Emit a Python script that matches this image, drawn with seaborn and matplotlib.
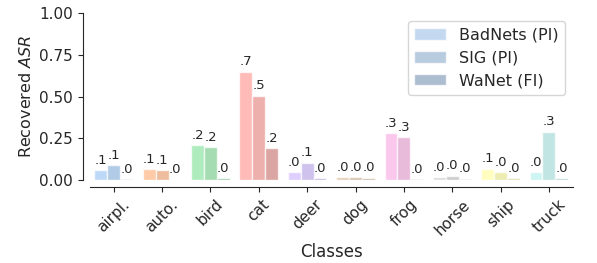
import numpy as np
import pandas as pd
import matplotlib
matplotlib.use("Agg")
import matplotlib.pyplot as plt
import seaborn as sns

classes = ["airpl.", "auto.", "bird", "cat", "deer", "dog", "frog", "horse", "ship", "truck"]
series = ["BadNets (PI)", "SIG (PI)", "WaNet (FI)"]
badnets = [0.059, 0.065, 0.21, 0.65, 0.047, 0.018, 0.283, 0.018, 0.069, 0.047]
sig = [0.09, 0.061, 0.197, 0.506, 0.104, 0.018, 0.256, 0.026, 0.047, 0.291]
wanet = [0.005, 0.002, 0.012, 0.193, 0.012, 0.014, 0.006, 0.008, 0.01, 0.01]

sns.set_style("ticks")
plt.rcParams['font.family'] = ['DejaVu Sans']

df = pd.DataFrame({
    "Classes": classes * 3,
    "value": badnets + sig + wanet,
    "series": [s for s in series for _ in classes],
})

base = sns.color_palette("pastel", 10)
factors = [1.0, 0.9, 0.8]
alpha = 0.7

def shade(c, f):
    return tuple(np.clip(np.array(c) * f, 0, 1))

legend_pal = {s: shade(base[0], f) for s, f in zip(series, factors)}

fig, ax = plt.subplots(figsize=(5.97, 2.63), dpi=100)
sns.barplot(data=df, x="Classes", y="value", hue="series", hue_order=series,
            palette=legend_pal, alpha=alpha, edgecolor="white", linewidth=1,
            ax=ax, errorbar=None)

for si, cont in enumerate(ax.containers):
    for ci, patch in enumerate(cont.patches):
        patch.set_facecolor(shade(base[ci], factors[si]))
        patch.set_alpha(alpha)
        h = patch.get_height()
        lab = f"{h:.1f}"
        if lab.startswith("0"):
            lab = lab[1:]
        ax.text(patch.get_x() + patch.get_width() / 2, h + 0.02, lab,
                ha="center", va="bottom", fontsize=9.5)

ax.set_ylim(0, 1.0)
ax.set_yticks([0, 0.25, 0.5, 0.75, 1.0])
ax.set_ylabel("Recovered $ASR$", fontsize=11.5)
ax.set_xlabel("Classes", fontsize=12)
ax.tick_params(axis="both", labelsize=11)
ax.tick_params(axis="x", rotation=45)
leg = ax.legend(loc="upper right", fontsize=11.5, bbox_to_anchor=(1.0, 1.0))
for h in leg.legend_handles:
    h.set_alpha(alpha)
sns.despine(ax=ax, offset=5)

fig.subplots_adjust(left=0.15, right=0.96, top=0.95, bottom=0.315)
fig.savefig("out.png", dpi=100)
